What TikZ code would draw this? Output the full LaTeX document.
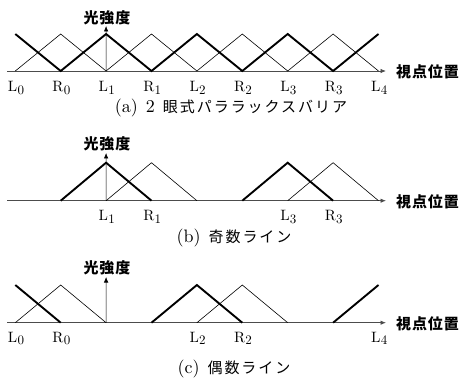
\documentclass[tikz,border=0pt]{standalone}
\usepackage{fontspec}
\usetikzlibrary{arrows.meta}
\newfontfamily\lmten{lmroman10-regular.otf}
\newfontfamily\cjk{Noto Sans CJK JP}[LetterSpace=13]
\newfontfamily\cjkg{Noto Sans CJK JP}[LetterSpace=6]
\newcommand\pt[2]{#1\kern0.3pt\raisebox{-2.6pt}{\fontsize{13}{14}\selectfont #2}}
\begin{document}
\begin{tikzpicture}[x=1pt,y=-1pt,
  thinl/.style={line width=0.6pt},
  boldl/.style={line width=1.9pt},
  haxis/.style={line width=0.8pt, draw=black!70, -{Latex[length=5.5pt,width=4.5pt]}},
  vaxis/.style={line width=0.6pt, -{Latex[length=5.5pt,width=4.5pt]}},
  lbl/.style={anchor=base, inner sep=0pt, font=\lmten\fontsize{15}{17}\selectfont},
  ylbl/.style={inner sep=0pt, font=\fontsize{15}{16}\selectfont\cjkg\bfseries},
  xlbl/.style={anchor=west, inner sep=0pt, font=\fontsize{15}{16}\selectfont\cjkg\bfseries},
  captxt/.style={anchor=base, inner sep=0pt, font=\lmten\fontsize{18}{20}\selectfont}]
\useasboundingbox (0,0) rectangle (461,385);
% ---------- panel (a)
\foreach \i in {0,...,8} {
  \coordinate (a\i) at ({15.3+45.4*\i},71);
  \coordinate (A\i) at ({15.3+45.4*\i},34);
}
\coordinate (ao) at (7,71);
\coordinate (ae) at (386,71);
\coordinate (at) at (106.1,26);
\draw[haxis] (ao) -- (ae);
\draw[thinl] (a0) -- (A1) -- (a2) -- (A3) -- (a4) -- (A5) -- (a6) -- (A7) -- (a8);
\draw[boldl] (A0) -- (a1) -- (A2) -- (a3) -- (A4) -- (a5) -- (A6) -- (a7) -- (A8);
\draw[vaxis] (a2) -- (at);
\node[ylbl] (ya) at (107,17.5) {光強度};
\node[xlbl] (xa) at (396,72) {視点位置};
\foreach \i/\l/\s in {0/L/0,1/R/0,2/L/1,3/R/1,4/L/2,5/R/2,6/L/3,7/R/3,8/L/4}
  \node[lbl] (la\i) at ({16+45.4*\i},91.5) {\pt{\l}{\s}};
\node[captxt] (ca) at (231,113) {(a)\hspace{8pt}2\hspace{8pt}{\fontsize{15}{17}\selectfont\cjk 眼式パララックスバリア}};
% ---------- panel (b)
\foreach \i in {0,...,8} {
  \coordinate (b\i) at ({15.3+45.4*\i},200.7);
  \coordinate (B\i) at ({15.3+45.4*\i},162.7);
}
\coordinate (bo) at (7,200.7);
\coordinate (be) at (386,200.7);
\coordinate (bt) at (106.1,153);
\draw[haxis] (bo) -- (be);
\draw[thinl] (b2) -- (B3) -- (b4);
\draw[thinl] (b6) -- (B7) -- (b8);
\draw[boldl] (b1) -- (B2) -- (b3);
\draw[boldl] (b5) -- (B6) -- (b7);
\draw[vaxis] (b2) -- (bt);
\node[ylbl] (yb) at (107,143.5) {光強度};
\node[xlbl] (xb) at (396,201.7) {視点位置};
\foreach \i/\l/\s in {2/L/1,3/R/1,6/L/3,7/R/3}
  \node[lbl] (lb\i) at ({16+45.4*\i},220.5) {\pt{\l}{\s}};
\node[captxt] (cb) at (234,243) {(b)\hspace{8pt}{\fontsize{15}{17}\selectfont\cjk 奇数ライン}};
% ---------- panel (c)
\foreach \i in {0,...,8} {
  \coordinate (c\i) at ({15.3+45.4*\i},322.7);
  \coordinate (C\i) at ({15.3+45.4*\i},285);
}
\coordinate (co) at (7,322.7);
\coordinate (ce) at (386,322.7);
\coordinate (ct) at (106.1,277);
\draw[haxis] (co) -- (ce);
\draw[thinl] (c0) -- (C1) -- (c2);
\draw[thinl] (c4) -- (C5) -- (c6);
\draw[boldl] (C0) -- (c1);
\draw[boldl] (c3) -- (C4) -- (c5);
\draw[boldl] (c7) -- (C8);
\draw[vaxis] (c2) -- (ct);
\node[ylbl] (yc) at (107,267.5) {光強度};
\node[xlbl] (xc) at (396,323.7) {視点位置};
\foreach \i/\l/\s in {0/L/0,1/R/0,4/L/2,5/R/2,8/L/4}
  \node[lbl] (lc\i) at ({16+45.4*\i},342) {\pt{\l}{\s}};
\node[captxt] (cc) at (234,373) {(c)\hspace{8pt}{\fontsize{15}{17}\selectfont\cjk 偶数ライン}};
\end{tikzpicture}
\end{document}
